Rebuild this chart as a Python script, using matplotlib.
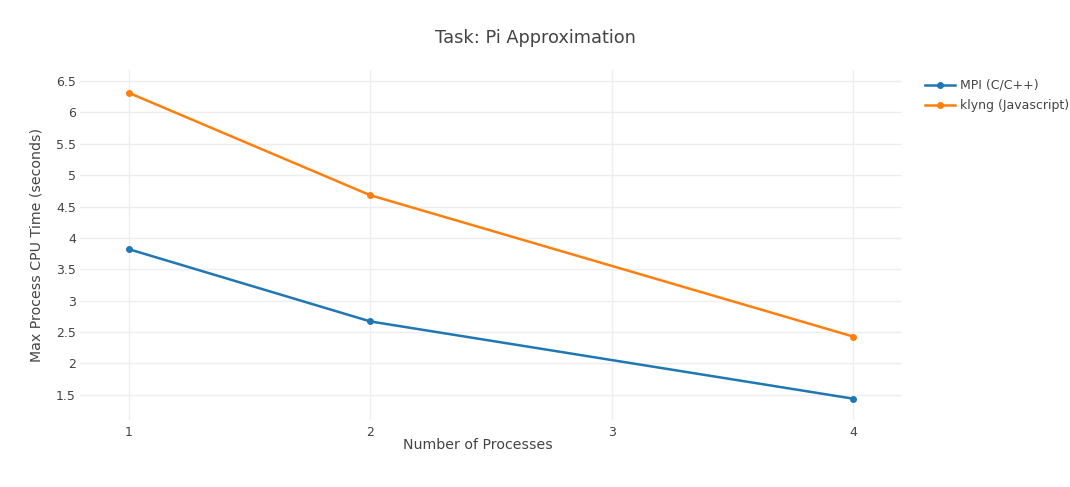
import matplotlib.pyplot as plt
from matplotlib.lines import Line2D

plt.rcParams['font.family'] = ['DejaVu Sans']

# Data
processes = [1, 2, 4]
mpi_times = [3.82, 2.67, 1.44]
klyng_times = [6.31, 4.68, 2.43]
series_names = ['MPI (C/C++)', 'klyng (Javascript)']
colors = ['#1f77b4', '#ff7f0e']
x_ticks = [1, 2, 3, 4]
y_ticks = [1.5, 2, 2.5, 3, 3.5, 4, 4.5, 5, 5.5, 6, 6.5]

text_color = '#444444'
grid_color = '#eeeeee'

fig = plt.figure(figsize=(10.7, 4.87), dpi=100)
ax = fig.add_axes([80 / 1070, 1 - 420 / 487, 822 / 1070, 350 / 487])

for ys, name, c in zip([mpi_times, klyng_times], series_names, colors):
    ax.plot(processes, ys, color=c, linewidth=1.8, marker='o', markersize=4,
            label=name, zorder=3)

ax.set_xlim(0.797, 4.203)
ax.set_ylim(1.10, 6.675)
ax.set_xticks(x_ticks)
ax.set_xticklabels([str(t) for t in x_ticks])
ax.set_yticks(y_ticks)
ax.set_yticklabels([f'{t:g}' for t in y_ticks])

ax.grid(True, color=grid_color, linewidth=1)
ax.set_axisbelow(True)
for s in ax.spines.values():
    s.set_visible(False)
ax.tick_params(length=0, colors=text_color, labelsize=9)
ax.tick_params(axis='x', pad=4)
ax.tick_params(axis='y', pad=3)

ax.set_xlabel('Number of Processes', color=text_color, fontsize=10.2)
ax.xaxis.set_label_coords((478 - 80) / 822, -(445 - 420) / 350)
ax.xaxis.label.set_va('center')
ax.set_ylabel('Max Process CPU Time (seconds)', color=text_color, fontsize=10.2, labelpad=9)
fig.text(535 / 1070, 1 - 38 / 487, 'Task: Pi Approximation', ha='center', va='center',
         color=text_color, fontsize=12.8)

handles = [Line2D([0], [0], color=c, linewidth=1.8, marker='o', markersize=4) for c in colors]
fig.legend(handles, series_names, loc='upper left', bbox_to_anchor=(925 / 1070, 1 - 79 / 487),
           frameon=False, fontsize=9, labelcolor=text_color, handlelength=2.4,
           handletextpad=0.4, labelspacing=0.55, borderaxespad=0, borderpad=0)

fig.savefig('out.png', dpi=100)
